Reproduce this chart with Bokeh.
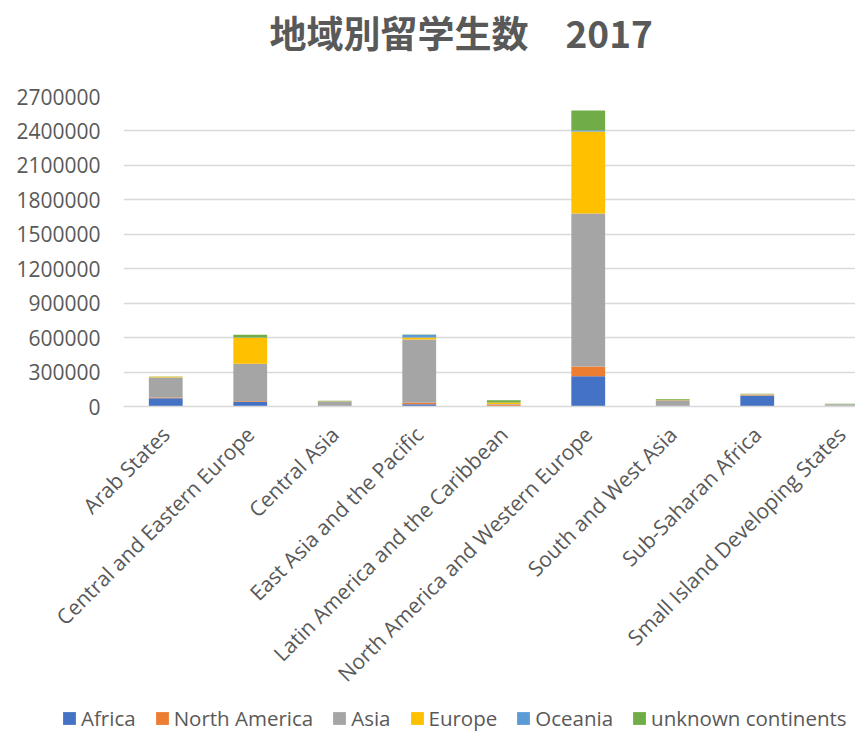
from bokeh.plotting import figure
from bokeh.layouts import column
from bokeh.models import (ColumnDataSource, Range1d, FixedTicker, BasicTickFormatter,
                          Legend, LegendItem)
from bokeh.embed import file_html
from bokeh.resources import INLINE
import math

# ---- data ----
categories = ["Arab States", "Central and Eastern Europe", "Central Asia",
              "East Asia and the Pacific", "Latin America and the Caribbean",
              "North America and Western Europe", "South and West Asia",
              "Sub-Saharan Africa", "Small Island Developing States"]
africa = [72000, 40000, 1000, 20000, 1500, 264000, 3000, 93000, 3000]
north_america = [6000, 5000, 500, 13000, 17000, 85000, 2000, 4000, 3000]
asia = [175000, 327000, 42000, 550000, 4000, 1332000, 50000, 5000, 8000]
europe = [6000, 226000, 3000, 17000, 12000, 714000, 3000, 5000, 3000]
oceania = [1000, 2000, 200, 24000, 1000, 10000, 1000, 1000, 4000]
unknown = [2000, 25000, 4000, 3000, 20000, 173000, 7000, 2000, 2000]
series_names = ["Africa", "North America", "Asia", "Europe", "Oceania", "unknown continents"]
colors = ["#4472C4", "#ED7D31", "#A5A5A5", "#FFC000", "#5B9BD5", "#70AD47"]
y_ticks = [0, 300000, 600000, 900000, 1200000, 1500000, 1800000, 2100000, 2400000, 2700000]
title_text = "地域別留学生数　2017"

xs = list(range(len(categories)))
src = ColumnDataSource(dict(x=xs, Africa=africa, NorthAmerica=north_america, Asia=asia,
                            Europe=europe, Oceania=oceania, Unknown=unknown))
keys = ["Africa", "NorthAmerica", "Asia", "Europe", "Oceania", "Unknown"]

FONT = "Open Sans"
GREY = "#595959"

# ---- title strip ----
tf = figure(width=855, height=70, output_backend="svg", toolbar_location=None,
            x_range=Range1d(0, 1), y_range=Range1d(0, 1),
            x_axis_type=None, y_axis_type=None, min_border=0)
tf.frame_align = False
tf.outline_line_color = None
tf.grid.visible = False
tf.border_fill_color = "white"
tf.title.text = title_text
tf.title.text_font = "Noto Sans CJK JP"
tf.title.text_font_size = "37px"
tf.title.text_font_style = "bold"
tf.title.text_color = GREY
tf.title.align = "left"
tf.title.vertical_align = "top"
tf.title.offset = 269
tf.title.standoff = 20

# ---- main chart ----
p = figure(width=855, height=634, output_backend="svg", toolbar_location=None,
           x_range=Range1d(-0.5, 8.163), y_range=Range1d(0, 2700000),
           min_border_left=123, min_border_right=0, min_border_top=26,
           min_border_bottom=298)
p.frame_align = False
p.outline_line_color = None
p.background_fill_color = "white"
p.border_fill_color = "white"

p.vbar_stack(keys, x="x", width=0.4, color=colors, source=src, line_color=None)

# y axis
p.yaxis.ticker = FixedTicker(ticks=y_ticks)
p.yaxis.formatter = BasicTickFormatter(use_scientific=False)
p.yaxis.axis_line_color = None
p.yaxis.major_tick_line_color = None
p.yaxis.minor_tick_line_color = None
p.yaxis.major_tick_out = 0
p.yaxis.major_tick_in = 0
p.yaxis.major_label_standoff = 23
p.yaxis.major_label_text_font = FONT
p.yaxis.major_label_text_font_size = "21px"
p.yaxis.major_label_text_color = GREY

# x axis
p.xaxis.ticker = FixedTicker(ticks=xs)
p.xaxis.major_label_overrides = {i: c for i, c in zip(xs, categories)}
p.xaxis.major_label_orientation = math.pi / 4
p.xaxis.axis_line_color = "#D9D9D9"
p.xaxis.axis_line_width = 1.5
p.xaxis.major_tick_line_color = None
p.xaxis.minor_tick_line_color = None
p.xaxis.major_tick_out = 0
p.xaxis.major_tick_in = 0
p.xaxis.major_label_standoff = 24
p.xaxis.major_label_text_font = FONT
p.xaxis.major_label_text_font_size = "21px"
p.xaxis.major_label_text_color = GREY

# grid
p.xgrid.grid_line_color = None
p.ygrid.ticker = FixedTicker(ticks=y_ticks)
p.ygrid.grid_line_color = "#D9D9D9"
p.ygrid.grid_line_width = 1.5

# ---- legend strip ----
lf = figure(width=855, height=28, output_backend="svg", toolbar_location=None,
            x_range=Range1d(0, 1), y_range=Range1d(0, 1),
            x_axis_type=None, y_axis_type=None, min_border=0)
lf.frame_align = False
lf.outline_line_color = None
lf.grid.visible = False
lf.border_fill_color = "white"
lrs = lf.vbar_stack(keys, x="x", width=0.4, color=colors, source=src, line_color=None)
items = []
for n, r in zip(series_names, lrs):
    r.visible = False
    items.append(LegendItem(label=n, renderers=[r]))
legend = Legend(items=items, orientation="horizontal", location=(61, 0),
                label_text_font=FONT, label_text_font_size="20.5px", label_text_color=GREY,
                glyph_width=16, glyph_height=16, label_standoff=4, spacing=18,
                padding=4, margin=0, label_height=20,
                inactive_fill_alpha=0,
                border_line_color=None, background_fill_alpha=0)
lf.add_layout(legend, "center")

layout = column(tf, p, lf, spacing=0)
open("out.html", "w").write(file_html(layout, INLINE))
